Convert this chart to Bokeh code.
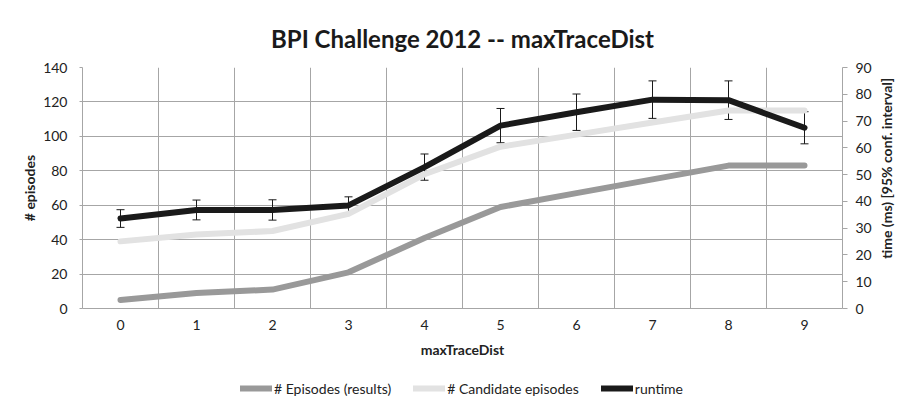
import math
from bokeh.plotting import figure
from bokeh.layouts import column, row
from bokeh.core.properties import value
from bokeh.models import (Range1d, LinearAxis, FixedTicker, Whisker, TeeHead,
                          ColumnDataSource, Legend, LegendItem)
from bokeh.embed import file_html
from bokeh.resources import INLINE

# ---- data ----
max_trace_dist = [0, 1, 2, 3, 4, 5, 6, 7, 8, 9]
episodes_results = [5, 9, 11, 21, 41, 59, 67, 75, 83, 83]
candidate_episodes = [39, 43, 45, 55, 78, 94, 101, 108, 115, 115]
runtime_ms = [33.6, 36.8, 36.8, 38.5, 52.8, 68.3, 73.3, 78.0, 77.8, 67.5]
runtime_ci = [3.3, 3.7, 3.8, 3.2, 4.9, 6.4, 6.8, 7.0, 7.2, 6.0]
left_ticks = [0, 20, 40, 60, 80, 100, 120, 140]
right_ticks = [0, 10, 20, 30, 40, 50, 60, 70, 80, 90]
series_names = ["# Episodes (results)", "# Candidate episodes", "runtime"]
series_colors = ["#999999", "#e2e2e2", "#1a1a1a"]
chart_title = "BPI Challenge 2012 -- maxTraceDist"
right_axis_title = "time (ms) [95% conf. interval]"

FONT = "Lato"
GRID = "#a6a6a6"
TXT = "#222222"


def strip(w, h):
    s = figure(width=w, height=h, output_backend="svg", toolbar_location=None,
               x_range=Range1d(0, w), y_range=Range1d(0, h), min_border=0,
               x_axis_location=None, y_axis_location=None, outline_line_color=None,
               background_fill_color="white", border_fill_color="white")
    s.grid.visible = False
    return s


# title strip
top = strip(902, 59)
top.text(x=[462], y=[21], text=[chart_title], text_align="center",
         text_baseline="middle", text_font=value(FONT), text_font_style="bold",
         text_font_size="24px", text_color="#1a1a1a")

fig = figure(frame_width=760, frame_height=241, output_backend="svg", toolbar_location=None,
             x_range=Range1d(-0.5, 9.5), y_range=Range1d(0, 140),
             min_border_left=82, min_border_right=32, min_border_top=8,
             min_border_bottom=62, background_fill_color="white",
             border_fill_color="white", outline_line_color=None)

fig.extra_y_ranges = {"time": Range1d(0, 90)}

# grids
fig.xgrid.ticker = FixedTicker(ticks=[i - 0.5 for i in range(11)])
fig.xgrid.grid_line_color = GRID
fig.ygrid.ticker = FixedTicker(ticks=left_ticks)
fig.ygrid.grid_line_color = GRID

# x axis
xa = fig.xaxis[0]
xa.ticker = FixedTicker(ticks=max_trace_dist)
xa.axis_label = "maxTraceDist"
xa.axis_line_color = GRID
xa.major_tick_line_color = None
xa.minor_tick_line_color = None
xa.major_tick_out = 0
xa.major_tick_in = 0
xa.major_label_standoff = 11
xa.axis_label_standoff = 8

# left axis
ya = fig.yaxis[0]
ya.ticker = FixedTicker(ticks=left_ticks)
ya.axis_label = "# episodes"
ya.axis_line_color = GRID
ya.major_tick_line_color = GRID
ya.minor_tick_line_color = None
ya.major_tick_out = 3
ya.major_tick_in = 0
ya.major_label_standoff = 12
ya.axis_label_standoff = 2

# right axis (title drawn separately so it reads bottom-to-top)
ra = LinearAxis(y_range_name="time", ticker=FixedTicker(ticks=right_ticks))
ra.axis_line_color = GRID
ra.major_tick_line_color = GRID
ra.minor_tick_line_color = None
ra.major_tick_out = 5
ra.major_tick_in = 0
ra.major_label_standoff = 8
fig.add_layout(ra, "right")

for ax in (xa, ya, ra):
    ax.major_label_text_font = FONT
    ax.major_label_text_font_size = "14px"
    ax.major_label_text_color = TXT
    ax.axis_label_text_font = FONT
    ax.axis_label_text_font_size = "14px"
    ax.axis_label_text_font_style = "bold"
    ax.axis_label_text_color = TXT

# lines
fig.line(max_trace_dist, episodes_results, line_color=series_colors[0], line_width=6,
         line_cap="round", line_join="round")
fig.line(max_trace_dist, candidate_episodes, line_color=series_colors[1], line_width=6,
         line_cap="round", line_join="round")
fig.line(max_trace_dist, runtime_ms, line_color=series_colors[2], line_width=6,
         line_cap="round", line_join="round", y_range_name="time")

# error bars
src = ColumnDataSource(dict(
    x=max_trace_dist,
    upper=[r + e for r, e in zip(runtime_ms, runtime_ci)],
    lower=[r - e for r, e in zip(runtime_ms, runtime_ci)],
))
wh = Whisker(source=src, base="x", upper="upper", lower="lower", y_range_name="time",
             line_color="#1a1a1a", line_width=1,
             upper_head=TeeHead(size=8, line_color="#1a1a1a", line_width=1),
             lower_head=TeeHead(size=8, line_color="#1a1a1a", line_width=1))
fig.add_layout(wh)

# right axis title, reading bottom-to-top
lab = strip(28, 311)
lab.text(x=[12], y=[181], text=[right_axis_title], angle=math.pi / 2,
         text_align="center", text_baseline="middle", text_font=value(FONT),
         text_font_style="bold", text_font_size="14px", text_color=TXT)

# legend strip (series lines fall outside this strip's ranges; only legend shows)
leg = strip(902, 36)
leg.y_range = Range1d(0, 1)
items = []
for name, col, ys in zip(series_names, series_colors,
                         [episodes_results, candidate_episodes, runtime_ms]):
    rr = leg.line(max_trace_dist, ys, line_color=col, line_width=6, line_cap="round")
    items.append(LegendItem(label=name, renderers=[rr]))
legend = Legend(items=items, orientation="horizontal", location=(240, 8),
                glyph_width=32, glyph_height=20, label_standoff=2, spacing=22,
                padding=0, margin=0, border_line_color=None,
                background_fill_alpha=0, label_text_font=FONT,
                label_text_font_size="14px", label_text_color=TXT,
                label_height=20)
leg.add_layout(legend)

p = column(top, row(fig, lab), leg)

open("out.html", "w").write(file_html(p, INLINE))
